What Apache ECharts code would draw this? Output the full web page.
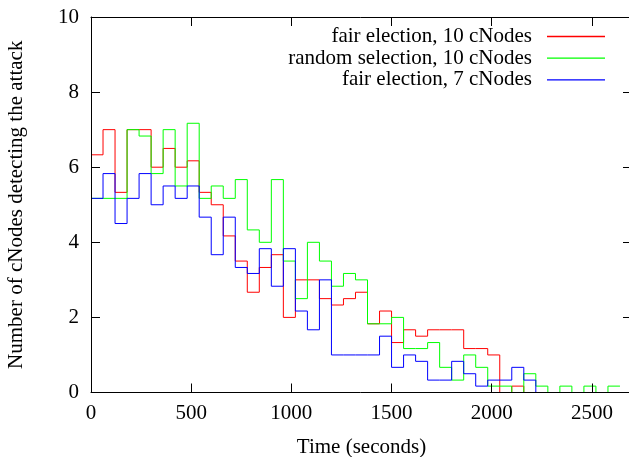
<!DOCTYPE html>
<html><head><meta charset="utf-8">
<script src="https://cdn.jsdelivr.net/npm/echarts@6/dist/echarts.min.js"></script>
<style>html,body{margin:0;padding:0;background:#fff}#c{width:629px;height:457px}</style>
</head><body><div id="c"></div><script>
// Bin start times (seconds), bins are 60 s wide
const binStart = [0,60,120,180,240,300,360,420,480,540,600,660,720,780,840,900,960,1020,1080,1140,1200,1260,1320,1380,1440,1500,1560,1620,1680,1740,1800,1860,1920,1980,2040,2100,2160,2220,2280,2340,2400,2460,2520,2580];
const binEnd = 2640;

const fairElection10 = [6.33,7,5.33,7,7,6,6.5,6,6.17,5.33,5,4.17,3.5,2.67,3.33,3.67,2,3,3,2.5,2.33,2.5,2.67,1.83,2.17,1.33,1.67,1.5,1.67,1.67,1.67,1.17,1.17,1,0,0.17,0,0,0,0,0,0,0,0];
const randomSelection10 = [5.17,5.17,5.17,7,6.83,5.83,7,5.5,7.17,5.17,5.5,5.17,5.67,4.33,4,5.67,3.5,2.5,4,3.5,2.83,3.17,3,1.83,1.83,2,1.17,1.17,1.33,0.67,0.33,1,0.67,0.17,0.17,0,0.5,0.17,0,0.17,0,0.17,0,0.17];
const fairElection7 = [5.17,5.83,4.5,5.17,5.83,5,5.5,5.17,5.5,4.67,3.67,4.67,3.33,3.17,3.83,2.83,3.83,2.17,1.67,3,1,1,1,1,1.5,0.67,1,0.83,0.33,0.33,0.83,0.5,0.17,0.33,0.33,0.67,0.33,0,0,0,0,0,0,0];

const seriesNames = ['fair election, 10 cNodes','random selection, 10 cNodes','fair election, 7 cNodes'];
const seriesColors = ['#ff0000','#00ff00','#0000ff'];
const xTicks = ['0','500','1000','1500','2000','2500'];
const xTitle = 'Time (seconds)';
const yTitle = 'Number of cNodes detecting the attack';

function toSteps(vals){
  const d = binStart.map((t,i)=>[t, vals[i]]);
  d.push([binEnd, vals[vals.length-1]]);
  return d;
}

const font = 'Liberation Serif';
const chart = echarts.init(document.getElementById('c'), null, {renderer:'canvas'});
const lineBlack = {show:true,onZero:false,lineStyle:{color:'#000',width:1}};
const tickIn = {show:true,inside:true,length:9,lineStyle:{color:'#000',width:1}};

chart.setOption({
  animation:false,
  backgroundColor:'#ffffff',
  grid:{left:91,right:-3,top:17,bottom:64.5,containLabel:false,outerBoundsMode:'none'},
  legend:{
    orient:'vertical', right:24, top:26, padding:0, align:'right',
    itemWidth:58, itemHeight:1.3, itemGap:0.7, icon:'rect',
    selectedMode:false,
    data:seriesNames,
    textStyle:{fontFamily:font,fontSize:21,color:'#000',lineHeight:21,padding:[0,10,0,0]}
  },
  xAxis:[{
    type:'value',min:0,max:2700,interval:500,position:'bottom',z:5,
    name:xTitle,nameLocation:'middle',nameGap:44,
    nameTextStyle:{fontFamily:font,fontSize:21,color:'#000'},
    axisLine:lineBlack,axisTick:tickIn,
    axisLabel:{fontFamily:font,fontSize:21,color:'#000',margin:10,
      formatter:(v)=>xTicks[Math.round(v/500)] ?? ''},
    splitLine:{show:false}
  },{
    type:'value',min:0,max:2700,interval:500,position:'top',z:5,
    axisLine:lineBlack,axisTick:tickIn,axisLabel:{show:false},splitLine:{show:false}
  }],
  yAxis:[{
    type:'value',min:0,max:10,interval:2,position:'left',z:5,
    name:yTitle,nameLocation:'middle',nameGap:64,nameRotate:90,
    nameTextStyle:{fontFamily:font,fontSize:21,color:'#000'},
    axisLine:lineBlack,axisTick:tickIn,
    axisLabel:{fontFamily:font,fontSize:21,color:'#000',margin:12},
    splitLine:{show:false}
  },{
    type:'value',min:0,max:10,interval:2,position:'right',z:5,
    axisLine:lineBlack,axisTick:tickIn,axisLabel:{show:false},splitLine:{show:false}
  }],
  series:[fairElection10,randomSelection10,fairElection7].map((vals,i)=>({
    name:seriesNames[i],type:'line',step:'end',symbol:'none',
    data:toSteps(vals),
    color:seriesColors[i],
    lineStyle:{color:seriesColors[i],width:1},
    itemStyle:{color:seriesColors[i]},
    emphasis:{disabled:true}
  }))
});
</script></body></html>
